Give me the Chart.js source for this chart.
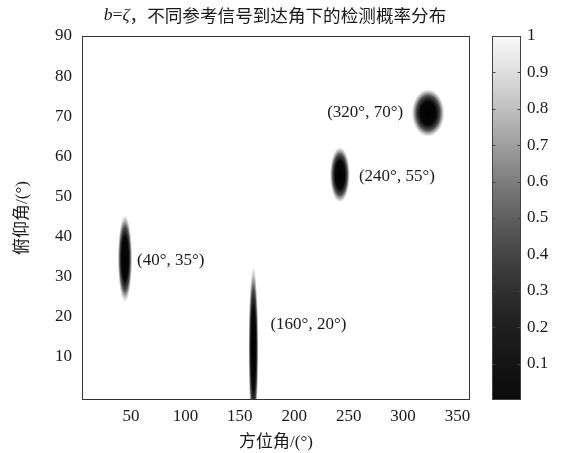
<!DOCTYPE html>
<html><head><meta charset="utf-8">
<script src="https://cdn.jsdelivr.net/npm/chart.js@4.4.0/dist/chart.umd.min.js"></script>
<style>
html,body{margin:0;padding:0;background:#fff;}
#wrap{position:relative;width:572px;height:453px;background:#fff;}
#main{position:absolute;left:0;top:0;}
#cb{position:absolute;left:470px;top:0;}
</style></head><body>
<div id="wrap"><canvas id="main" width="572" height="453"></canvas><canvas id="cb" width="102" height="453"></canvas></div>
<script>
// ---- data ----
const azimuthTicks = [50, 100, 150, 200, 250, 300, 350];
const elevationTicks = [10, 20, 30, 40, 50, 60, 70, 80, 90];
const colorbarTicks = [0.1, 0.2, 0.3, 0.4, 0.5, 0.6, 0.7, 0.8, 0.9, 1];
const sourceLabels = ['(40°, 35°)', '(160°, 20°)', '(240°, 55°)', '(320°, 70°)'];
const peakAzimuth = [44.5, 162.5, 242, 323];
const peakElevation = [34.5, 12, 55.4, 70.8];
const peakHalfWidthAz = [6.6, 4.6, 9.2, 15];
const peakHalfWidthEl = [10.8, 20.5, 6.9, 5.9];

// ---- styles ----
const TXT = '#1a1a1a';
const SERIF = "'Liberation Serif', 'Times New Roman', serif";
const MIXED = "'Liberation Serif', 'Noto Sans CJK SC', serif";
const labelOffsets = [[12, 2, 'left'], [17, -24, 'left'], [19, 2, 'left'], [-25, 0, 'right']];

const blobPlugin = {
  id: 'blobs',
  beforeDatasetsDraw(chart) {
    const {ctx, chartArea: ca, scales: {x, y}} = chart;
    ctx.save();
    ctx.beginPath(); ctx.rect(ca.left, ca.top, ca.width, ca.height); ctx.clip();
    peakAzimuth.forEach((az, i) => {
      const cx = x.getPixelForValue(az), cy = y.getPixelForValue(peakElevation[i]);
      const rx = Math.abs(x.getPixelForValue(az + peakHalfWidthAz[i]) - cx);
      const ry = Math.abs(y.getPixelForValue(peakElevation[i] + peakHalfWidthEl[i]) - cy);
      ctx.save();
      ctx.translate(cx, cy); ctx.scale(rx, ry);
      const g = ctx.createRadialGradient(0, 0, 0, 0, 0, 1);
      g.addColorStop(0, 'rgba(0,0,0,1)');
      g.addColorStop(0.5, 'rgba(0,0,0,0.97)');
      g.addColorStop(0.72, 'rgba(0,0,0,0.7)');
      g.addColorStop(0.88, 'rgba(0,0,0,0.25)');
      g.addColorStop(1, 'rgba(0,0,0,0)');
      ctx.fillStyle = g;
      ctx.beginPath(); ctx.arc(0, 0, 1, 0, Math.PI * 2); ctx.fill();
      ctx.restore();
    });
    ctx.restore();
  },
  afterDatasetsDraw(chart) {
    const {ctx, chartArea: ca, scales: {x, y}} = chart;
    ctx.save();
    // box
    ctx.strokeStyle = '#333'; ctx.lineWidth = 1;
    ctx.strokeRect(Math.round(ca.left) + 0.5, Math.round(ca.top) + 0.5, Math.round(ca.width) - 1, Math.round(ca.height) - 1);
    // peak labels
    ctx.font = '17px ' + SERIF; ctx.fillStyle = TXT; ctx.textBaseline = 'middle';
    sourceLabels.forEach((t, i) => {
      const cx = x.getPixelForValue(peakAzimuth[i]), cy = y.getPixelForValue(peakElevation[i]);
      const [dx, dy, al] = labelOffsets[i];
      ctx.textAlign = al;
      ctx.fillText(t, cx + dx, cy + dy);
    });
    // title
    const parts = [
      ['b', 'italic 17.6px ' + SERIF],
      ['=', '17.6px ' + SERIF],
      ['ζ', 'italic 17.6px ' + SERIF],
      ['，不同参考信号到达角下的检测概率分布', "17.6px 'Noto Sans CJK SC', sans-serif"]
    ];
    let w = 0;
    parts.forEach(p => { ctx.font = p[1]; w += ctx.measureText(p[0]).width; });
    let px = 275 - w / 2;
    ctx.textAlign = 'left'; ctx.textBaseline = 'middle';
    parts.forEach(p => { ctx.font = p[1]; ctx.fillText(p[0], px, 15); px += ctx.measureText(p[0]).width; });
    ctx.restore();
  }
};

new Chart(document.getElementById('main'), {
  type: 'scatter',
  data: { datasets: [{ data: peakAzimuth.map((a, i) => ({x: a, y: peakElevation[i]})), pointRadius: 0, pointHoverRadius: 0 }] },
  options: {
    responsive: false, animation: false, events: [],
    layout: { padding: { top: 36, right: 102, left: 0, bottom: 0 } },
    plugins: { legend: { display: false }, tooltip: { enabled: false }, title: { display: false } },
    scales: {
      x: {
        type: 'linear', min: 5, max: 361.5,
        grid: { display: false, drawTicks: false }, border: { display: false },
        afterBuildTicks: s => { s.ticks = azimuthTicks.map(v => ({value: v})); },
        afterFit: s => { s.height = 53; },
        ticks: { font: { family: SERIF, size: 17 }, color: TXT, padding: 6, maxRotation: 0, autoSkip: false },
        title: { display: true, text: '方位角/(°)', font: { family: MIXED, size: 17 }, color: TXT, padding: { top: 0, bottom: 0 } }
      },
      y: {
        type: 'linear', min: -0.75, max: 90,
        grid: { display: false, drawTicks: false }, border: { display: false },
        afterBuildTicks: s => { s.ticks = elevationTicks.map(v => ({value: v})); },
        afterFit: s => { s.width = 82; },
        ticks: { font: { family: SERIF, size: 17 }, color: TXT, padding: 10, autoSkip: false },
        title: { display: true, text: '俯仰角/(°)', font: { family: MIXED, size: 17 }, color: TXT, padding: { top: 12, bottom: 0 } }
      }
    }
  },
  plugins: [blobPlugin]
});

const cbPlugin = {
  id: 'cbframe',
  afterDatasetsDraw(chart) {
    const {ctx, chartArea: ca, scales: {y}} = chart;
    ctx.save();
    ctx.strokeStyle = '#444'; ctx.lineWidth = 1;
    const l = Math.round(ca.left) + 0.5, r = Math.round(ca.right) - 0.5;
    ctx.strokeRect(l, Math.round(ca.top) + 0.5, r - l, Math.round(ca.height) - 1);
    colorbarTicks.forEach(v => {
      const py = Math.round(y.getPixelForValue(v)) + 0.5;
      if (v >= 1) return;
      ctx.beginPath();
      ctx.moveTo(l, py); ctx.lineTo(l + 3, py);
      ctx.moveTo(r, py); ctx.lineTo(r - 3, py);
      ctx.stroke();
    });
    ctx.restore();
  }
};

new Chart(document.getElementById('cb'), {
  type: 'bar',
  data: { labels: [''], datasets: [{
    data: [1], borderWidth: 0, barPercentage: 1, categoryPercentage: 1,
    backgroundColor: c => {
      const ca = c.chart.chartArea;
      if (!ca) return '#888';
      const g = c.chart.ctx.createLinearGradient(0, ca.bottom, 0, ca.top);
      const stops = [[0, '#0a0a0a'], [0.1, '#141414'], [0.2, '#1f1f1f'], [0.3, '#2f2f2f'], [0.4, '#454545'], [0.5, '#5f5f5f'], [0.6, '#7d7d7d'], [0.7, '#9e9e9e'], [0.8, '#c0c0c0'], [0.9, '#dedede'], [1, '#fafafa']];
      stops.forEach(s => g.addColorStop(s[0], s[1]));
      return g;
    }
  }] },
  options: {
    responsive: false, animation: false, events: [],
    layout: { padding: { top: 36, bottom: 53, left: 22, right: 0 } },
    plugins: { legend: { display: false }, tooltip: { enabled: false } },
    scales: {
      x: { display: false },
      y: {
        position: 'right', min: 0, max: 1,
        grid: { display: false, drawTicks: false }, border: { display: false },
        afterBuildTicks: s => { s.ticks = colorbarTicks.map(v => ({value: v})); },
        afterFit: s => { s.width = 51; },
        ticks: { padding: 6, font: { family: SERIF, size: 17 }, color: TXT, callback: v => v === 1 ? '1' : Number(v).toFixed(1) }
      }
    }
  },
  plugins: [cbPlugin]
});
</script>
</body></html>
